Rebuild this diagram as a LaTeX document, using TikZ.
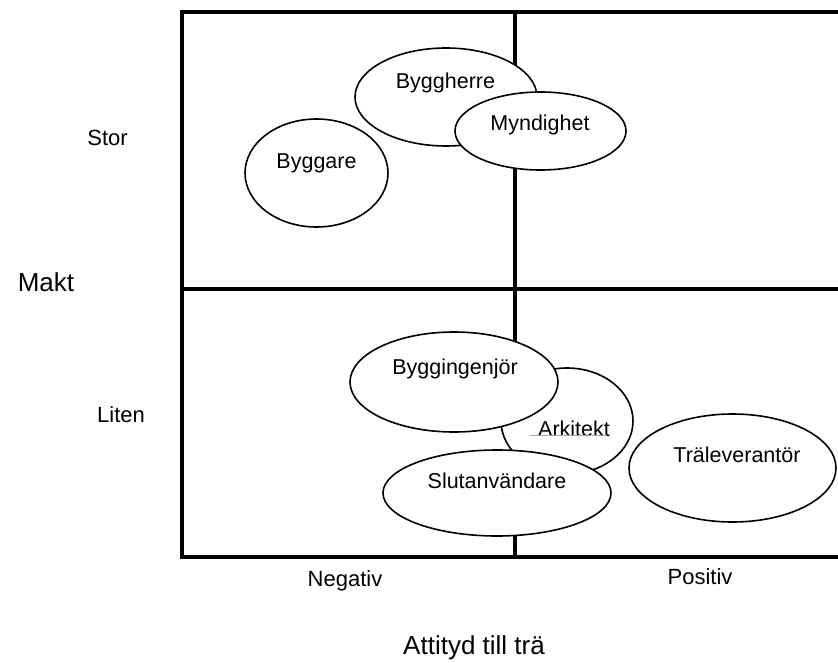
\documentclass[tikz,border=0pt]{standalone}
\usepackage{fontspec}
\setmainfont{Liberation Sans}
\usetikzlibrary{shapes.geometric}
\tikzset{
  gridLine/.style={line width=4pt, line cap=rect},
  actorBlob/.style={draw, fill=white, ellipse, line width=1.6pt, inner sep=0pt},
  actorLabel/.style={font=\fontsize{21.5}{24}\selectfont, inner sep=0pt},
  axisLabel/.style={font=\fontsize{22}{26}\selectfont, inner sep=0pt},
  axisTitle/.style={font=\fontsize{26}{30}\selectfont, inner sep=0pt}
}
\newcommand{\blob}[5]{% name, x, y, width, height
  \node[actorBlob, minimum width=#4, minimum height=#5] (#1) at (#2,#3) {};
}
\begin{document}
\begin{tikzpicture}[x=1pt,y=-1pt]
  \useasboundingbox (0,0) rectangle (838,663);
  % quadrant frame
  \coordinate (tr) at (850,12);
  \coordinate (tl) at (182,12);
  \coordinate (bl) at (182,556.5);
  \coordinate (br) at (850,556.5);
  \coordinate (vt) at (515,12);
  \coordinate (vb) at (515,556.5);
  \coordinate (hl) at (182,289);
  \coordinate (hr) at (850,289);
  \draw[gridLine] (tr) -- (tl) -- (bl) -- (br);
  \draw[gridLine] (vt) -- (vb);
  \draw[gridLine] (hl) -- (hr);
  % actors, back to front
  \blob{byggare}{316.5}{173}{143}{108}
  \blob{byggherre}{446}{97}{182}{98}
  \blob{myndighet}{540.5}{131}{171}{78}
  \blob{arkitekt}{567}{421}{132}{106}
  \blob{byggingenjor}{454}{382}{208}{100}
  \blob{slutanvandare}{497}{493}{228}{86}
  \blob{tralev}{732.5}{468}{207}{108}
  \node[actorLabel] (byggareT) at (316.5,163) {Byggare};
  \node[actorLabel] (byggherreT) at (445.5,82.5) {Byggherre};
  \node[actorLabel] (myndighetT) at (540,125) {Myndighet};
  \node[actorLabel] (arkitektT) at (574,428.5) {Arkitekt};
  \draw[black!35, line width=0.5pt] (530,435.5) -- (607,435.5);
  \node[actorLabel] (byggingenjorT) at (455,368.5) {Byggingenjör};
  \node[actorLabel] (slutanvandareT) at (497,481) {Slutanvändare};
  \node[actorLabel] (tralevT) at (737,455) {Träleverantör};
  % axes
  \node[axisLabel] (stor) at (107.5,138) {Stor};
  \node[axisLabel] (liten) at (121,415) {Liten};
  \node[axisTitle] (makt) at (46,282.5) {Makt};
  \node[axisLabel] (negativ) at (345,580.5) {Negativ};
  \node[axisLabel] (positiv) at (700,577) {Positiv};
  \node[axisTitle] (attityd) at (474,648) {Attityd till trä};
\end{tikzpicture}
\end{document}
